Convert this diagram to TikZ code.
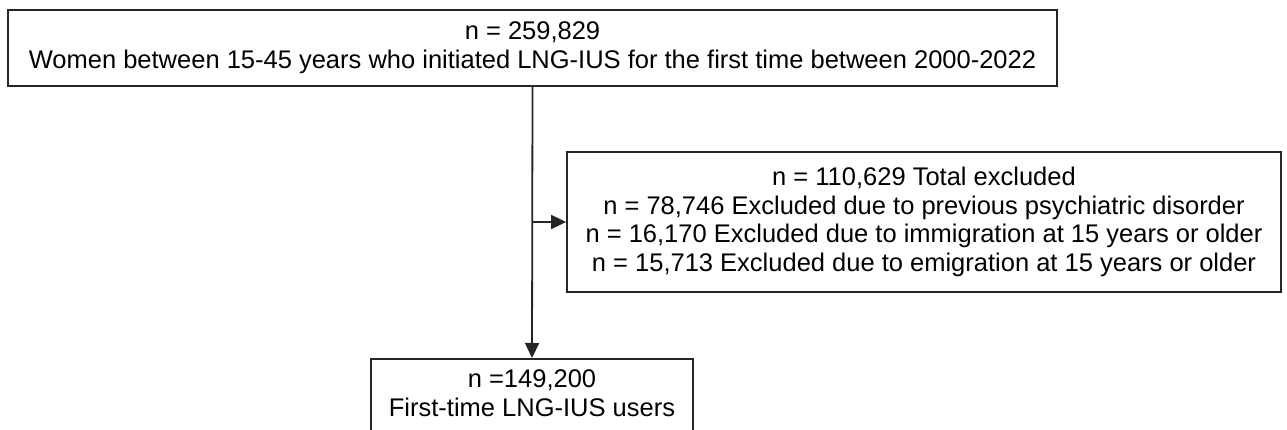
\documentclass[tikz,border=0pt]{standalone}
\usepackage{fontspec}
\setmainfont{Liberation Sans}
\usetikzlibrary{arrows.meta}
\begin{document}
\begin{tikzpicture}[x=1pt,y=-1pt,
  box/.style={draw=black!85, line width=1.8pt, inner sep=0pt, align=center,
    font=\fontsize{25.5}{28.8}\selectfont},
  conn/.style={draw=black!85, line width=1.8pt, -{Triangle[length=15pt,width=14pt]}}]
\useasboundingbox (0,0) rectangle (1287,430);
\clip (0,0) rectangle (1287,430);
\node[box, minimum width=1049pt, minimum height=76pt] (top) at (532.5,48)
  {n = 259,829\\Women between 15-45 years who initiated LNG-IUS for the first time between 2000-2022};
\node[box, minimum width=714pt, minimum height=140pt] (excl) at (924,222)
  {n = 110,629 Total excluded\\n = 78,746 Excluded due to previous psychiatric disorder\\n = 16,170 Excluded due to immigration at 15 years or older\\n = 15,713 Excluded due to emigration at 15 years or older};
\node[box, anchor=north, minimum width=322pt, inner ysep=11pt, text depth=40pt] (final) at (532,358)
  {n =149,200\\First-time LNG-IUS users};
\coordinate (branch) at (top.south |- excl.west);
\draw[conn] (top.south) -- (final.north);
\draw[conn] (branch) -- (excl.west);
\end{tikzpicture}
\end{document}
